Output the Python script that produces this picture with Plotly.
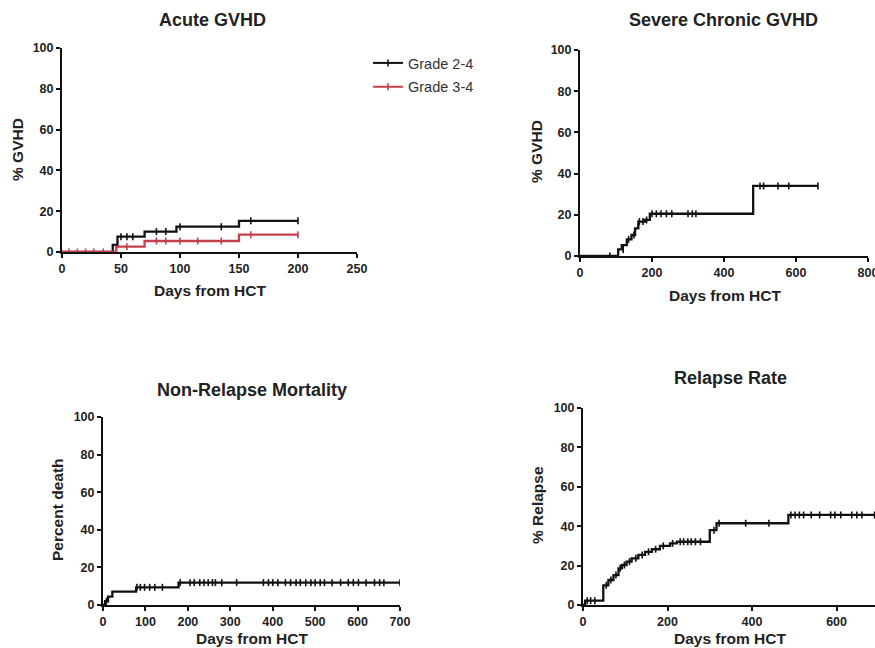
import plotly.graph_objects as go

W, H = 875, 648

# ---------------- data ----------------
# Acute GVHD, grade 2-4 (step events) and censor marks
ag24_t = [0, 43, 47, 70, 97, 150, 200]
ag24_v = [0, 3.5, 7.5, 10, 12.4, 15.3, 15.3]
ag24_cens_t = [50, 55, 60, 80, 88, 100, 135, 160, 200]
ag24_cens_v = [7.5, 7.5, 7.5, 10, 10, 12.4, 12.4, 15.3, 15.3]

ag34_t = [0, 46, 70, 150, 200]
ag34_v = [0, 2.6, 5.4, 8.5, 8.5]
ag34_cens_t = [6, 13, 20, 27, 35, 55, 80, 88, 100, 115, 135, 160, 200]
ag34_cens_v = [0, 0, 0, 0, 0, 2.6, 5.4, 5.4, 5.4, 5.4, 5.4, 8.5, 8.5]

# Severe chronic GVHD
cg_t = [0, 106, 116, 130, 143, 153, 162, 180, 194, 481, 661]
cg_v = [0, 3.2, 5.3, 8.1, 10.2, 13.4, 16.7, 17.5, 20.5, 34, 34]
cg_cens_t = [83, 120, 135, 150, 165, 175, 185, 200, 212, 225, 240, 255, 300, 312, 322, 500, 510, 550, 580, 661]
cg_cens_v = [0, 3.2, 8.1, 10.2, 16.7, 16.7, 17.5, 20.5, 20.5, 20.5, 20.5, 20.5, 20.5, 20.5, 20.5, 34, 34, 34, 34, 34]

# Non-relapse mortality
nrm_t = [0, 5, 12, 22, 78, 178, 700]
nrm_v = [0, 2, 4.5, 7.1, 9.4, 11.9, 11.9]
nrm_cens_t = [8, 80, 88, 98, 110, 122, 140, 182, 205, 215, 228, 238, 248, 258, 265, 280, 315,
              378, 390, 400, 412, 430, 442, 455, 465, 478, 490, 500, 512, 522, 540, 560, 578,
              590, 602, 620, 640, 652, 662, 700]
nrm_cens_v = [2, 9.4, 9.4, 9.4, 9.4, 9.4, 9.4] + [11.9] * 33

# Relapse rate
rel_t = [0, 5, 48, 60, 72, 84, 92, 103, 115, 131, 147, 163, 182, 206, 222, 300, 316, 486, 691]
rel_v = [0, 2.2, 10, 12.7, 15.2, 18.6, 20.3, 22, 23.7, 25.4, 27, 28.3, 30, 31.3, 32.1, 38, 41.5, 45.7, 45.7]
rel_cens_t = [10, 18, 28, 55, 66, 78, 88, 98, 110, 125, 140, 155, 172, 190, 212, 230, 238, 248,
              256, 266, 278, 310, 322, 385, 440, 492, 502, 512, 522, 540, 560, 586, 596, 610,
              636, 648, 660, 690]
rel_cens_v = [2.2, 2.2, 2.2, 10, 12.7, 15.2, 18.6, 20.3, 22, 23.7, 25.4, 27, 28.3, 30, 31.3,
              32.1, 32.1, 32.1, 32.1, 32.1, 32.1, 38, 41.5, 41.5, 41.5] + [45.7] * 13

x_ticks_acute = [0, 50, 100, 150, 200, 250]
x_ticks_chronic = [0, 200, 400, 600, 800]
x_ticks_nrm = [0, 100, 200, 300, 400, 500, 600, 700]
x_ticks_rel = [0, 200, 400, 600, 800]
y_ticks = [0, 20, 40, 60, 80, 100]

titles = ["Acute GVHD", "Severe Chronic GVHD", "Non-Relapse Mortality", "Relapse Rate"]
y_titles = ["% GVHD", "% GVHD", "Percent death", "% Relapse"]
x_title = "Days from HCT"

BLACK = "#111111"
RED = "#c4404c"
FONT = "Liberation Sans, Arial, sans-serif"


def px_x(p):
    return p / W


def px_y(p):
    return 1 - p / H


fig = go.Figure()


def add_curve(t, v, ct, cv, color, xa, ya, name=None, show=False):
    fig.add_trace(go.Scatter(
        x=t, y=v, mode="lines", line=dict(color=color, width=2.3, shape="hv"),
        xaxis=xa, yaxis=ya, showlegend=False, hoverinfo="skip"))
    fig.add_trace(go.Scatter(
        x=ct, y=cv, mode="markers",
        marker=dict(symbol="line-ns", size=5, line=dict(color=color, width=1.6)),
        xaxis=xa, yaxis=ya, showlegend=False, hoverinfo="skip"))
    if show:
        fig.add_trace(go.Scatter(
            x=[None], y=[None], mode="lines+markers", name=name, legendgroup=name,
            line=dict(color=color, width=2),
            marker=dict(symbol="line-ns", size=5, line=dict(color=color, width=1.6)),
            xaxis=xa, yaxis=ya, showlegend=True))


add_curve(ag24_t, ag24_v, ag24_cens_t, ag24_cens_v, BLACK, "x", "y", "Grade 2-4", True)
add_curve(ag34_t, ag34_v, ag34_cens_t, ag34_cens_v, RED, "x", "y", "Grade 3-4", True)
add_curve(cg_t, cg_v, cg_cens_t, cg_cens_v, BLACK, "x2", "y2")
add_curve(nrm_t, nrm_v, nrm_cens_t, nrm_cens_v, BLACK, "x3", "y3")
add_curve(rel_t, rel_v, rel_cens_t, rel_cens_v, BLACK, "x4", "y4")

tickfont = dict(family=FONT, size=12.5, color="#222", weight="bold")
common_ax = dict(showgrid=False, zeroline=False, showline=True, linecolor=BLACK, linewidth=2,
                 ticks="outside", ticklen=4, tickwidth=2, tickcolor=BLACK, tickfont=tickfont,
                 automargin=False, fixedrange=True, ticklabeloverflow="allow")

panels = [
    # x domain px, y px (0 line, 100 line), x range, x ticks
    ((62, 357), (252, 48), (0, 250), x_ticks_acute),
    ((580, 868), (256, 50), (0, 800), x_ticks_chronic),
    ((103, 400), (605, 417), (0, 700), x_ticks_nrm),
    ((583, 875), (605, 408), (0, 691), x_ticks_rel),
]

layout = {}
for i, ((x0, x1), (y0, y1), xr, xt) in enumerate(panels):
    sfx = "" if i == 0 else str(i + 1)
    layout["xaxis" + sfx] = dict(common_ax, domain=[px_x(x0), px_x(x1)], range=list(xr),
                                 tickvals=xt, anchor="y" + sfx)
    layout["yaxis" + sfx] = dict(common_ax, domain=[px_y(y0), px_y(y1)], range=[0, 100],
                                 tickvals=y_ticks, anchor="x" + sfx)

ann = []
title_pos = [(212, 20), (723, 20), (252, 390), (730, 378)]
xt_pos = [(210, 290), (725, 295), (252, 638), (730, 638)]
yt_pos = [(17, 150), (537, 152), (57, 510), (537, 505)]
for i in range(4):
    ann.append(dict(text=titles[i], x=px_x(title_pos[i][0]), y=px_y(title_pos[i][1]),
                    xref="paper", yref="paper", showarrow=False, xanchor="center", yanchor="middle",
                    font=dict(family=FONT, size=18, color="#222", weight="bold")))
    ann.append(dict(text=x_title, x=px_x(xt_pos[i][0]), y=px_y(xt_pos[i][1]),
                    xref="paper", yref="paper", showarrow=False, xanchor="center", yanchor="middle",
                    font=dict(family=FONT, size=15.5, color="#222", weight="bold")))
    ann.append(dict(text=y_titles[i], x=px_x(yt_pos[i][0]), y=px_y(yt_pos[i][1]),
                    xref="paper", yref="paper", showarrow=False, xanchor="center", yanchor="middle",
                    textangle=-90,
                    font=dict(family=FONT, size=15.5, color="#222", weight="bold")))

fig.update_layout(
    template="none",
    width=W, height=H, margin=dict(l=0, r=0, t=0, b=0, autoexpand=False),
    paper_bgcolor="white", plot_bgcolor="white",
    annotations=ann,
    legend=dict(x=px_x(368), y=px_y(47), xanchor="left", yanchor="top",
                bgcolor="rgba(0,0,0,0)", font=dict(family=FONT, size=14.5, color="#333"),
                itemwidth=30, tracegroupgap=2),
    **layout,
)

fig.write_html(
    "out.html",
    config={"displayModeBar": False},
    post_script="document.body.style.margin='0';document.body.style.overflow='hidden';",
)
